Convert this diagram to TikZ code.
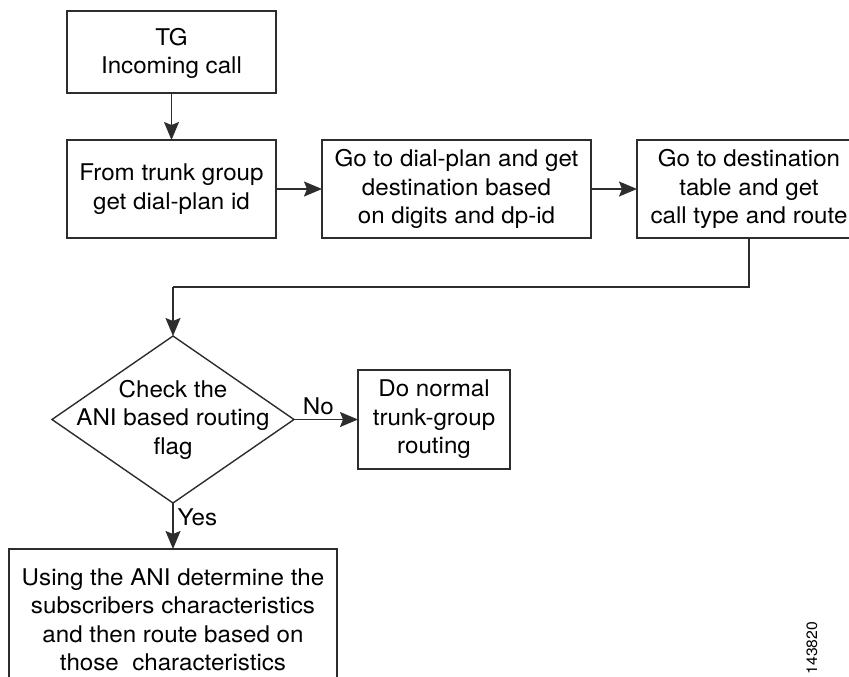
\documentclass[tikz,border=0pt]{standalone}
\usepackage{fontspec}
\setmainfont[FakeStretch=1.05]{TeX Gyre Heros}
\usetikzlibrary{shapes.geometric,arrows.meta}
\definecolor{linec}{RGB}{45,45,45}
\begin{document}
\begin{tikzpicture}[x=1pt,y=-1pt,
  box/.style={draw=linec, line width=1.4pt, align=center, inner sep=0pt, outer sep=0pt,
    font=\fontsize{23}{28.5}\selectfont, text=black},
  dia/.style={diamond, draw=linec, line width=1.4pt, inner sep=0pt, outer sep=0pt},
  lbl/.style={font=\fontsize{23}{28.5}\selectfont, text=black},
  conn/.style={draw=linec, line width=1.4pt, -{Stealth[length=18pt,width=15pt,inset=3pt]}},
  plain/.style={draw=linec, line width=1.4pt}]
\useasboundingbox (0,0) rectangle (849,677);
\clip (0,0) rectangle (849,677);
\fill[white] (0,0) rectangle (849,677);

\node[box, minimum width=209pt, minimum height=82pt, text depth=2pt] (tg) at (171.5,52) {TG\\Incoming call};
\node[box, minimum width=209pt, minimum height=98pt] (b2) at (171.5,189) {From trunk group\\get dial-plan id};
\node[box, minimum width=269pt, minimum height=98pt] (b3) at (456.5,189) {Go to dial-plan and get\\destination based\\on digits and dp-id};
\node[box, minimum width=224pt, minimum height=98pt] (b4) at (749,189) {Go to destination\\table and get\\call type and route};
\node[dia, minimum width=242pt, minimum height=167pt] (d) at (173,419.5) {};
\node[lbl, align=center] (dt) at (d.center) {Check the\\ANI based routing\\flag};
\node[box, minimum width=152pt, minimum height=99pt] (b5) at (434,419.5) {Do normal\\trunk-group\\routing};
\node[box, minimum width=328pt, minimum height=142pt] (b6) at (173,620) {Using the ANI determine the\\subscribers characteristics\\and then route based on\\those\ \ characteristics};
\coordinate (turn) at (173,287);
\node[font=\fontsize{15}{18}\selectfont, rotate=90, text=black] (id) at (812,648) {143820};

\draw[conn] (tg) -- (b2);
\draw[conn] (b2) -- (b3);
\draw[conn] (b3) -- (b4);
\draw[plain] (b4.south) |- (turn);
\draw[conn] (turn) -- (d.north);
\draw[conn] (d.east) -- node[lbl, above, pos=0.38, inner sep=4pt] {No} (b5.west);
\draw[conn] (d.south) -- node[lbl, right, pos=0.3, inner sep=4pt] {Yes} (b6.north);
\end{tikzpicture}
\end{document}
